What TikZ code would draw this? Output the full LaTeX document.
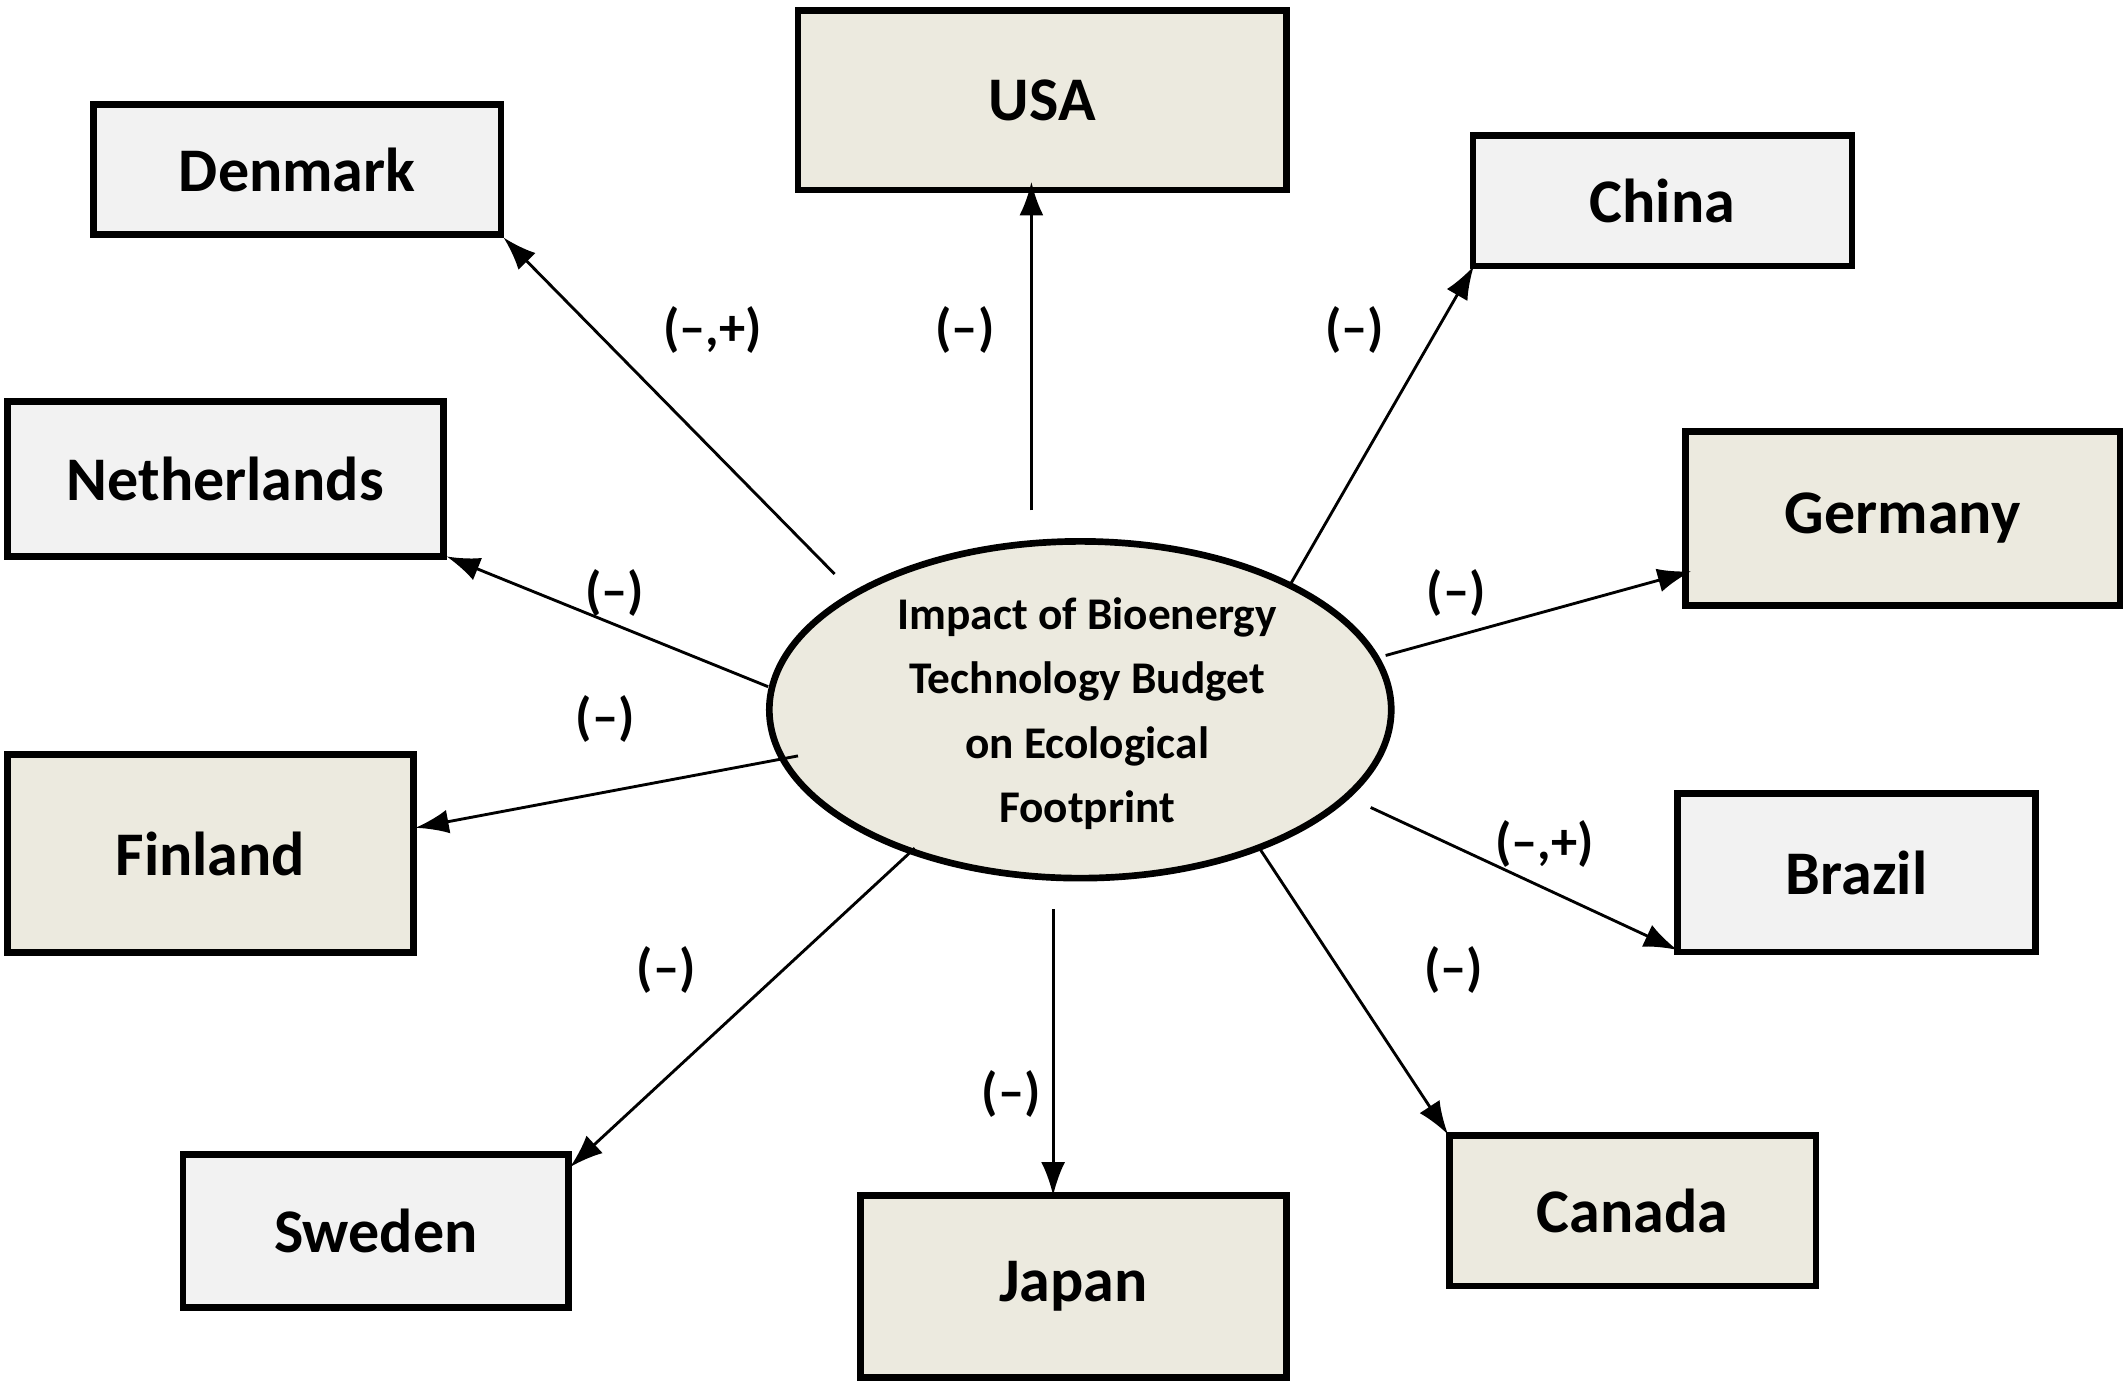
\documentclass[tikz,border=0pt]{standalone}
\usepackage{fontspec}
\setmainfont{Carlito}
\usetikzlibrary{arrows.meta,shapes.geometric}
\definecolor{tanfill}{HTML}{ECEADF}
\definecolor{greyfill}{HTML}{F2F2F2}
\begin{document}
\begin{tikzpicture}[
    x=0.01cm,
    y=-0.01cm,
    % boxes for the countries, two fill colours
    country/.style={draw, line width=1.4pt, font=\fontsize{13}{15}\selectfont\bfseries, inner sep=0pt},
    tanbox/.style={country, fill=tanfill},
    greybox/.style={country, fill=greyfill},
    link/.style={-{Latex[length=7pt,width=5pt]}, line width=0.6pt},
    sign/.style={font=\fontsize{11}{13}\selectfont\bfseries}
]
    \useasboundingbox (0,0) rectangle (1568,1022);

    % --- Centre ---
    \node (centre) [draw, line width=1.4pt, fill=tanfill, ellipse, minimum width=4.58cm, minimum height=2.48cm, inner sep=0pt] at (796,523) {};
    \node (centretext) [align=center, font=\fontsize{9.5}{13.5}\selectfont\bfseries] at (801,526)
        {Impact of Bioenergy\\Technology Budget\\on Ecological\\Footprint};

    % --- Countries ---
    \node (usa) [tanbox, minimum width=3.6cm, minimum height=1.32cm] at (768,74) {USA};
    \node (denmark) [greybox, minimum width=3.0cm, minimum height=0.96cm] at (219,125) {Denmark};
    \node (china) [greybox, minimum width=2.79cm, minimum height=0.96cm] at (1225,148) {China};
    \node (netherlands) [greybox, minimum width=3.21cm, minimum height=1.14cm] at (166,353) {Netherlands};
    \node (germany) [tanbox, minimum width=3.2cm, minimum height=1.28cm] at (1402,382) {Germany};
    \node (finland) [tanbox, minimum width=2.99cm, minimum height=1.46cm] at (155,629) {Finland};
    \node (brazil) [greybox, minimum width=2.64cm, minimum height=1.17cm] at (1368,643) {Brazil};
    \node (sweden) [greybox, minimum width=2.84cm, minimum height=1.13cm] at (277,907) {Sweden};
    \node (japan) [tanbox, minimum width=3.14cm, minimum height=1.34cm] at (791,948) {Japan};
    \node (canada) [tanbox, minimum width=2.7cm, minimum height=1.11cm] at (1203,892) {Canada};

    % --- Arrow ends ---
    \coordinate (sDen) at (615,423);  \coordinate (eDen) at (371,175);
    \coordinate (sUsa) at (760,376);  \coordinate (eUsa) at (760,134);
    \coordinate (sChi) at (950,432);  \coordinate (eChi) at (1086,196);
    \coordinate (sNet) at (566,506);  \coordinate (eNet) at (329,410);
    \coordinate (sGer) at (1021,483); \coordinate (eGer) at (1246,421);
    \coordinate (sFin) at (588,557);  \coordinate (eFin) at (306,610);
    \coordinate (sBra) at (1010,595); \coordinate (eBra) at (1236,700);
    \coordinate (sSwe) at (674,625);  \coordinate (eSwe) at (420,860);
    \coordinate (sJap) at (776,670);  \coordinate (eJap) at (776,881);
    \coordinate (sCan) at (928,625);  \coordinate (eCan) at (1067,836);

    \foreach \a in {Den,Usa,Chi,Net,Ger,Fin,Bra,Swe,Jap,Can}
        \draw[link] (s\a) -- (e\a);

    % --- Signs ---
    \node (lDen) [sign] at (525,243) {(--,+)};
    \node (lUsa) [sign] at (711,243) {(--)};
    \node (lChi) [sign] at (998,243) {(--)};
    \node (lNet) [sign] at (453,437) {(--)};
    \node (lFin) [sign] at (446,530) {(--)};
    \node (lGer) [sign] at (1073,437) {(--)};
    \node (lBra) [sign] at (1138,622) {(--,+)};
    \node (lSwe) [sign] at (491,715) {(--)};
    \node (lCan) [sign] at (1071,715) {(--)};
    \node (lJap) [sign] at (745,806) {(--)};
\end{tikzpicture}
\end{document}
